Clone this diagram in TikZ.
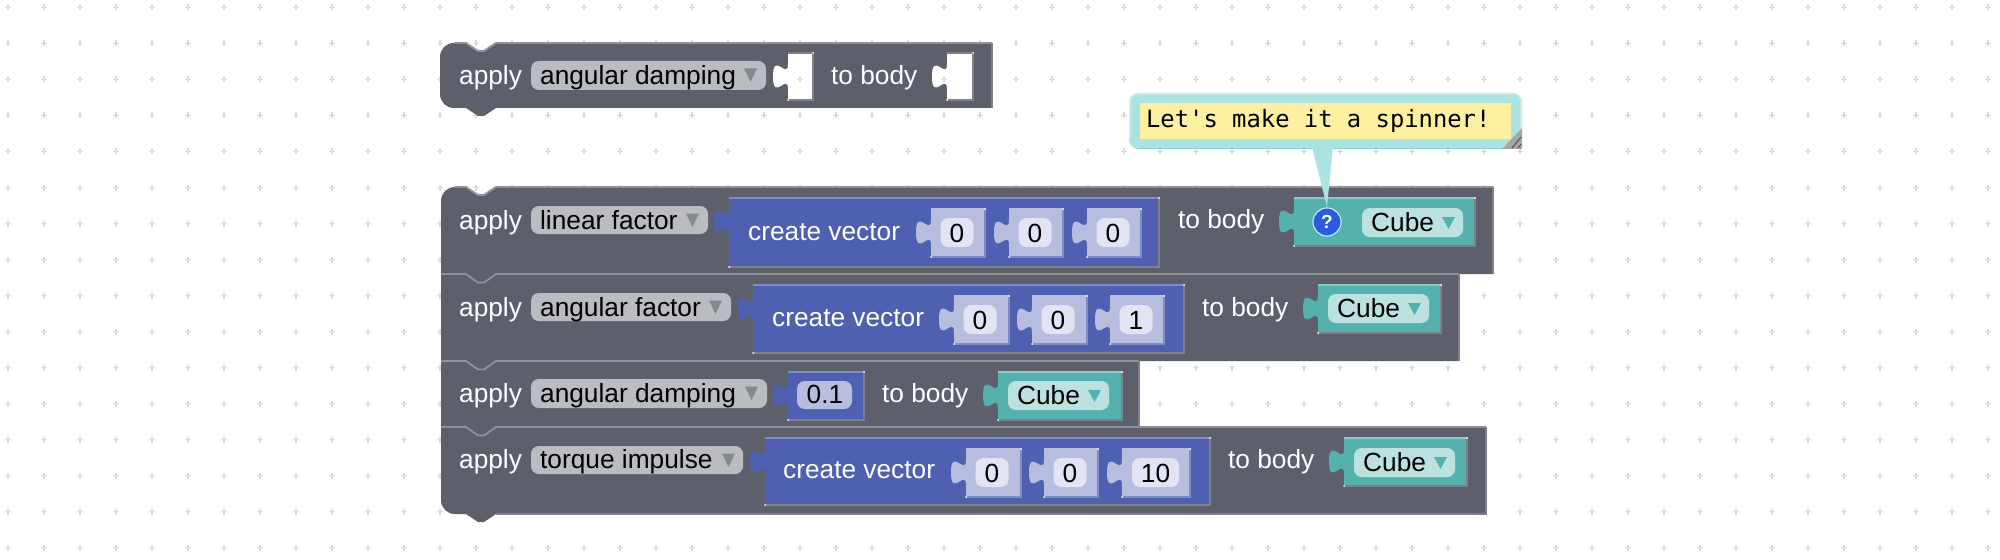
\documentclass[tikz,border=0pt]{standalone}
\usepackage{fontspec}
\setmainfont{Liberation Sans}
\newfontfamily\monof{DejaVu Sans Mono}
\definecolor{bodyc}{HTML}{5D606B}
\definecolor{bodyhi}{HTML}{8E9199}
\definecolor{bodylo}{HTML}{7E818B}
\definecolor{vecc}{HTML}{4F60B0}
\definecolor{vechi}{HTML}{7D8ACB}
\definecolor{slotc}{HTML}{B6BDDF}
\definecolor{slotlo}{HTML}{7F8AC7}
\definecolor{slotf}{HTML}{E2E4F3}
\definecolor{numf}{HTML}{B6BDDF}
\definecolor{tealc}{HTML}{55B1AD}
\definecolor{tealhi}{HTML}{88CBC8}
\definecolor{tealf}{HTML}{BBE2DF}
\definecolor{ddc}{HTML}{BBBCC2}
\definecolor{gridc}{HTML}{DADADA}
\definecolor{bubc}{HTML}{ABE3E3}
\definecolor{bubhi}{HTML}{C6EEEE}
\definecolor{bublo}{HTML}{8FD2D2}
\definecolor{notec}{HTML}{FDF0A0}
\definecolor{helpc}{HTML}{2A5CDD}
\def\pzLoC{bodylo}
\tikzset{
  x=0.05cm,y=-0.05cm,
  whitetext/.style={text=white,inner sep=0,anchor=base west,font=\fontsize{37.4}{37.4}\selectfont},
  blacktext/.style={text=black,inner sep=0,anchor=base west,font=\fontsize{37.4}{37.4}\selectfont},
  numtext/.style={text=black,inner sep=0,anchor=base,font=\fontsize{37.4}{37.4}\selectfont},
  hiline/.style={line width=2.6pt},
  loline/.style={draw=\pzLoC,line width=2pt},
}
% value block with a puzzle tab: x1,x2,y1,y2,fill,top highlight
\newcommand{\tabblock}[6]{%
  \pgfmathsetmacro\pzX{#1-15}%
  \pgfmathsetmacro\pzA{#3+11}\pgfmathsetmacro\pzB{#3+27.7}\pgfmathsetmacro\pzC{#3-2.3}%
  \pgfmathsetmacro\pzD{#3+23.5}\pgfmathsetmacro\pzE{#3+49.3}\pgfmathsetmacro\pzF{#3+19.3}%
  \pgfmathsetmacro\pzG{#3+36}%
  \fill[#5] (#1,#3) -- (#1,\pzA) .. controls (#1,\pzB) and (\pzX,\pzC) .. (\pzX,\pzD)
     .. controls (\pzX,\pzE) and (#1,\pzF) .. (#1,\pzG) -- (#1,#4) -- (#2,#4) -- (#2,#3) -- cycle;
  \draw[loline] (#1,#4) -- (#2,#4) -- (#2,#3);
  \draw[#6,line width=2pt] (#1,#3) -- (#2,#3);
  \fill[white] (#1,#4) circle[radius=1];
  \fill[white] (#2,#3) circle[radius=1];
}
% field: x1,x2,y1,y2,colour
\newcommand{\field}[5]{\fill[#5,rounded corners=11pt] (#1,#3) rectangle (#2,#4);}
% triangle arrow: x1,x2,y1,y2,colour
\newcommand{\tri}[5]{\pgfmathsetmacro\pzM{(#1+#2)/2}\fill[#5] (#1,#3) -- (#2,#3) -- (\pzM,#4) -- cycle;}
% dropdown: name,x2,y1,y2,text,arrow x1,baseline
\newcommand{\drop}[7]{%
  \field{531}{#2}{#3}{#4}{ddc}%
  \node[blacktext] (#1) at (540,#7) {#5};%
  \pgfmathsetmacro\pzP{#6+13}\pgfmathsetmacro\pzQ{#3+7.5}\pgfmathsetmacro\pzR{#3+21}%
  \tri{#6}{\pzP}{\pzQ}{\pzR}{bodyc!75!white}}
% cube value: name,x1 (field left),y1 (field top)
\newcommand{\cube}[3]{%
  \pgfmathsetmacro\pzP{#2+101}\pgfmathsetmacro\pzQ{#3+29}%
  \field{#2}{\pzP}{#3}{\pzQ}{tealf}%
  \pgfmathsetmacro\pzS{#2+9}\pgfmathsetmacro\pzT{#3+23.5}%
  \node[blacktext] (#1) at (\pzS,\pzT) {Cube};%
  \pgfmathsetmacro\pzU{#2+80}\pgfmathsetmacro\pzV{#2+93}\pgfmathsetmacro\pzW{#3+9}\pgfmathsetmacro\pzZ{#3+21}%
  \tri{\pzU}{\pzV}{\pzW}{\pzZ}{tealc}}
% slot: name,x1 body,x2 body,y1,text
\newcommand{\slot}[5]{%
  \pgfmathsetmacro\pzI{#4+48}%
  \def\pzLoC{slotlo}%
  \tabblock{#2}{#3}{#4}{\pzI}{slotc}{slotc}%
  \def\pzLoC{bodylo}%
  \pgfmathsetmacro\pzK{#2+9.5}\pgfmathsetmacro\pzL{#2+42.5}%
  \pgfmathsetmacro\pzN{#4+9}\pgfmathsetmacro\pzO{#4+38}%
  \field{\pzK}{\pzL}{\pzN}{\pzO}{slotf}%
  \pgfmathsetmacro\pzS{(\pzK+\pzL)/2}\pgfmathsetmacro\pzT{#4+33}%
  \node[numtext] (#1) at (\pzS,\pzT) {#5};}
% plus-shaped grid dot at x,y
\newcommand{\gdot}[2]{\draw[gridc,line width=1.8pt] (#1-3,#2) -- (#1+3,#2) (#1,#2-3) -- (#1,#2+3);}
\begin{document}
\begin{tikzpicture}
\useasboundingbox (0,0) rectangle (2000,560);
\fill[white] (0,0) rectangle (2000,560);
% grid
\foreach \gx in {0,...,55}{\foreach \gy in {0,...,15}{%
  \pgfmathsetmacro\ga{8+36*\gx}\pgfmathsetmacro\gb{7.5+36*\gy}%
  \draw[gridc,line width=1.8pt] (\ga-3,\gb) -- (\ga+3,\gb) (\ga,\gb-3) -- (\ga,\gb+3);}}
% --- lone block ---
\fill[bodyc] (440,57) .. controls (440,49) and (446,43) .. (454,43) -- (466,43) -- (478,51) -- (484,51) -- (496,43)
  -- (992,43) -- (992,108) -- (496,108) -- (484,116) -- (478,116) -- (466,108) -- (454,108)
  .. controls (446,108) and (440,102) .. (440,94) -- cycle;
\draw[bodyhi,hiline] (454,43) -- (466,43) -- (478,51) -- (484,51) -- (496,43) -- (992,43);
\draw[loline] (992,43) -- (992,108);
\node[whitetext] (apply0) at (459,85) {apply};
\drop{kind0}{766}{61}{90}{angular damping}{744}{85}
\tabblock{788}{813}{53}{100}{white}{bodylo}
\gdot{800}{79.5}
\node[whitetext] (tobody0) at (831,85) {to body};
\tabblock{947}{973}{53}{100}{white}{bodylo}
\gdot{944}{79.5}
% --- stack ---
\fill[bodyc] (441,201) .. controls (441,193) and (447,187) .. (455,187) -- (466,187) -- (478,195) -- (484,195) -- (496,187)
  -- (1493,187) -- (1493,274) -- (1459,274) -- (1459,361) -- (1139,361) -- (1139,427) -- (1486,427) -- (1486,514)
  -- (496,514) -- (484,522) -- (478,522) -- (466,514) -- (455,514)
  .. controls (447,514) and (441,508) .. (441,500) -- cycle;
\draw[bodyhi,hiline] (455,187) -- (466,187) -- (478,195) -- (484,195) -- (496,187) -- (1493,187);
\draw[bodyhi,hiline] (441,274) -- (466,274) -- (478,282.5) -- (484,282.5) -- (496,274) -- (1459,274);
\draw[bodyhi,hiline] (441,361) -- (466,361) -- (478,369.5) -- (484,369.5) -- (496,361) -- (1139,361);
\draw[bodyhi,hiline] (441,427) -- (466,427) -- (478,435.5) -- (484,435.5) -- (496,427) -- (1486,427);
\draw[loline] (1493,187) -- (1493,274);
\draw[loline] (1459,274) -- (1459,361);
\draw[loline] (1139,361) -- (1139,427);
\draw[loline] (1486,427) -- (1486,514) -- (496,514);
% row 1
\node[whitetext] (apply1) at (459,229) {apply};
\drop{kind1}{708}{206}{234}{linear factor}{686}{229}
\tabblock{729}{1159}{198}{267}{vecc}{vechi}
\node[whitetext] (vec1) at (748,240) {create vector};
\slot{a1}{931}{985}{209}{0}
\slot{b1}{1009}{1063}{209}{0}
\slot{c1}{1087}{1141}{209}{0}
\node[whitetext] (tobody1) at (1178,228) {to body};
\tabblock{1294}{1475}{198}{246}{tealc}{tealhi}
\cube{cube1}{1362}{208}
% row 2
\node[whitetext] (apply2) at (459,316) {apply};
\drop{kind2}{731}{293}{321}{angular factor}{709}{316}
\tabblock{753}{1184}{285}{353}{vecc}{vechi}
\node[whitetext] (vec2) at (772,326) {create vector};
\slot{a2}{954}{1009}{296}{0}
\slot{b2}{1032}{1087}{296}{0}
\slot{c2}{1110}{1164}{296}{1}
\node[whitetext] (tobody2) at (1202,316) {to body};
\tabblock{1318}{1441}{285}{333}{tealc}{tealhi}
\cube{cube2}{1328}{294}
% row 3
\node[whitetext] (apply3) at (459,402) {apply};
\drop{kind3}{767}{379}{408}{angular damping}{745}{402}
\tabblock{788}{864}{372}{420}{vecc}{vechi}
\field{797}{852}{381}{409}{numf}
\node[numtext] (num3) at (825,403) {0.1};
\node[whitetext] (tobody3) at (882,402) {to body};
\tabblock{998}{1122}{372}{420}{tealc}{tealhi}
\cube{cube3}{1008}{381}
% row 4
\node[whitetext] (apply4) at (459,468) {apply};
\drop{kind4}{743}{446}{474}{torque impulse}{722}{468}
\tabblock{765}{1210}{438}{505}{vecc}{vechi}
\node[whitetext] (vec4) at (783,478) {create vector};
\slot{a4}{966}{1021}{449}{0}
\slot{b4}{1044}{1098}{449}{0}
\def\pzLoC{slotlo}
\tabblock{1122}{1190}{449}{497}{slotc}{slotc}
\def\pzLoC{bodylo}
\field{1132}{1179}{458}{487}{slotf}
\node[numtext] (c4) at (1155.5,482) {10};
\node[whitetext] (tobody4) at (1228,468) {to body};
\tabblock{1344}{1467}{438}{486}{tealc}{tealhi}
\cube{cube4}{1354}{448}
% --- comment bubble ---
\fill[bubc,rounded corners=13pt] (1129,93) rectangle (1522,149);
\draw[bublo,line width=2pt] (1139,148.5) -- (1512,148.5);
\draw[bubhi,line width=2.2pt,rounded corners=12pt] (1130,139) -- (1130,94) -- (1521,94) -- (1521,130);
\fill[bubc] (1312,147) -- (1327,207) -- (1333,147) -- cycle;
\fill[notec] (1140,103) rectangle (1511,139);
\node[text=black,inner sep=0,anchor=base west,font=\monof\fontsize{33.9}{34}\selectfont] (note) at (1146,128) {Let's make it a spinner!};
\fill[gray!70] (1522,128) -- (1522,149) -- (1502,149) -- cycle;
\draw[black!65,line width=1.6pt] (1512,148) -- (1521,137) (1518,148) -- (1521,144);
% help icon
\node[circle,fill=helpc,draw=bubhi,line width=1.6pt,minimum size=40pt,inner sep=0,text=white,font=\bfseries\fontsize{27}{27}\selectfont] (help) at (1327,222) {?};
\end{tikzpicture}
\end{document}
